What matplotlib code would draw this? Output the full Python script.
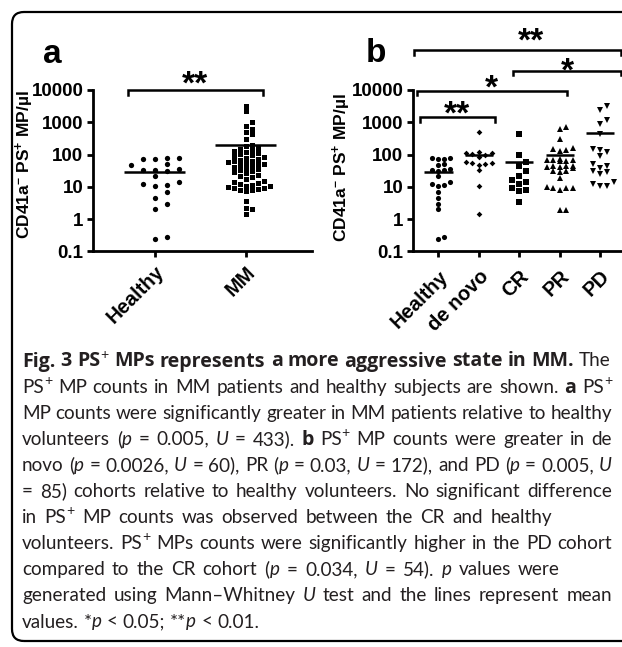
import re
import numpy as np
import matplotlib
matplotlib.use("Agg")
import matplotlib.pyplot as plt
from matplotlib.transforms import IdentityTransform
from matplotlib.font_manager import FontProperties
from matplotlib.patches import FancyBboxPatch
from matplotlib.ticker import NullLocator, FixedLocator

plt.rcParams["font.family"] = ["Liberation Sans", "DejaVu Sans"]
plt.rcParams["mathtext.fontset"] = "custom"
plt.rcParams["mathtext.rm"] = "Liberation Sans:bold"
plt.rcParams["mathtext.it"] = "Liberation Sans:bold:italic"
plt.rcParams["mathtext.bf"] = "Liberation Sans:bold"

W, H, DPI = 622, 647, 100

# ---------------- data ----------------
cats_a = ["Healthy", "MM"]
cats_b = ["Healthy", "de novo", "CR", "PR", "PD"]
yticks = [0.1, 1, 10, 100, 1000, 10000]
ytick_labels = ["0.1", "1", "10", "100", "1000", "10000"]

healthy = [81, 74, 81, 74, 50, 46, 33, 31, 36, 33, 21, 14, 12.6, 11.5, 10.5,
           6.8, 4.6, 3.0, 2.0, 0.25, 0.28]
mm = [3200, 2240, 1050, 780, 600, 500, 420, 300,
      200, 180, 160, 150, 140, 130, 120, 110, 105,
      95, 90, 85, 80, 75, 70, 65, 62, 58, 55, 52, 50, 48, 45, 42,
      38, 35, 33, 30, 28, 26, 24, 22, 20, 18,
      15, 14, 13, 12, 11.5, 11, 10.5, 10, 9.5, 9, 8.5, 8, 8, 7.5,
      3.7, 2.2, 2.1, 1.5]
de_novo = [490, 120, 115, 110, 105, 95, 85, 60, 55, 55, 50, 48, 33, 11, 1.5]
cr = [430, 98, 60, 45, 30, 22, 16, 14, 12, 9, 8, 7.5, 3.5]
pr = [700, 600, 300, 160, 150, 140, 130, 70, 68, 65, 68, 62, 72, 45, 42, 40,
      43, 38, 45, 32, 30, 28, 19, 8, 10, 9.5, 9, 9.5, 1.9, 1.9]
pd_ = [3200, 2400, 1200, 900, 450, 140, 120, 145, 90, 50, 45, 38, 32, 28, 25,
       14, 12, 11, 11]

groups_a = [healthy, mm]
groups_b = [healthy, de_novo, cr, pr, pd_]
markers_a = ["o", "s"]
markers_b = ["o", "D", "s", "^", "v"]
msizes_a = [3.8, 3.6]
msizes_b = [3.7, 2.9, 4.2, 4.3, 4.3]
# swarm layout per group: (column step px, row height px, max columns each side)
swarm_a = [(12.0, 6.0, 2), (6.0, 5.0, 5)]
swarm_b = [(6.0, 5.0, 2), (6.5, 5.0, 2), (7.0, 5.5, 2), (6.5, 5.0, 2), (7.0, 5.5, 2)]

# significance brackets: (x0, x1, y, label, star_x, star centre above bracket px)
sig_a = [(-0.30, 1.19, 10000, "**", 0.445, 13.5)]
sig_b = [(-0.61, 4.52, 1.7e5, "**", 2.29, 16.0),
         (1.84, 4.52, 3.9e4, "*", 3.18, 7.5),
         (-0.53, 3.17, 9.4e3, "*", 1.32, 10.0),
         (-0.46, 1.39, 1.45e3, "**", 0.47, 10.0)]

# ---------------- figure ----------------
fig = plt.figure(figsize=(W / DPI, H / DPI), dpi=DPI)


def px_rect(left, top, right, bottom):
    return [left / W, 1 - bottom / H, (right - left) / W, (bottom - top) / H]


axA = fig.add_axes(px_rect(93, 90, 312, 251.5))
axB = fig.add_axes(px_rect(413, 90, 626, 251.5))


def style_axis(ax, cats, xlim, xpad, label_xy):
    ax.set_yscale("log")
    ax.set_ylim(0.1, 10000)
    ax.set_xlim(*xlim)
    for s in ["top", "right"]:
        ax.spines[s].set_visible(False)
    for s in ["left", "bottom"]:
        ax.spines[s].set_linewidth(2.0)
    ax.yaxis.set_major_locator(FixedLocator(yticks))
    ax.yaxis.set_minor_locator(NullLocator())
    ax.set_yticklabels(ytick_labels, fontsize=13.5, fontweight="bold")
    ax.set_xticks(range(len(cats)))
    ax.set_xticklabels(cats, fontsize=14.5, fontweight="bold",
                       rotation=45, ha="right", va="top",
                       rotation_mode="anchor")
    ax.tick_params(axis="both", length=4, width=2, direction="out", pad=3)
    ax.tick_params(axis="x", pad=xpad)
    ax.set_ylabel("CD41a$^{-}$ PS$^{+}$ MP/µl", fontsize=12.5,
                  fontweight="bold")
    ax.yaxis.set_label_coords(*label_xy)


axA_w, axB_w = 219.0, 213.0
style_axis(axA, cats_a, (-0.68, 1.725), 4, ((36 - 93) / axA_w, (251.5 - 165) / 161.5))
style_axis(axB, cats_b, (-0.63, 4.64), 7, ((353 - 413) / axB_w, (251.5 - 168) / 161.5))


def swarm_x(ax, xc, values, step, row_h, maxcol):
    vals = np.asarray(values, dtype=float)
    pts = ax.transData.transform(np.column_stack([np.full(len(vals), xc), vals]))
    ys = pts[:, 1]
    x0 = pts[0, 0]
    order = np.argsort(ys)
    cols = [0]
    for j in range(1, maxcol + 1):
        cols += [j, -j]
    placed = {c: [] for c in cols}
    xs = np.empty(len(vals))
    for i in order:
        y = ys[i]
        best, best_d = None, -1.0
        for c in cols:
            d = min([abs(y - py) for py in placed[c]] + [1e9])
            if d >= row_h:
                best = c
                break
            if d > best_d:
                best, best_d = c, d
        placed[best].append(y)
        xs[i] = x0 + best * step
    inv = ax.transData.inverted()
    return inv.transform(np.column_stack([xs, ys]))[:, 0]


def draw_groups(ax, groups, markers, sizes, layouts, half):
    for i, (vals, m, ms, lay) in enumerate(zip(groups, markers, sizes, layouts)):
        xs = swarm_x(ax, i, vals, *lay)
        ax.plot(xs, vals, linestyle="none", marker=m, ms=ms, color="black",
                markeredgewidth=0, clip_on=False, zorder=3)
        mean = float(np.mean(vals))
        ax.plot([i - half, i + half], [mean, mean], color="black", lw=1.8,
                solid_capstyle="butt", zorder=4)


draw_groups(axA, groups_a, markers_a, msizes_a, swarm_a, 0.335)
draw_groups(axB, groups_b, markers_b, msizes_b, swarm_b, 0.35)

STAR_CENTRE_PX = 16.7  # glyph centre above baseline at 24 pt


def draw_sig(ax, sigs, drop=1.38):
    for x0, x1, y, lab, sx, above in sigs:
        ax.plot([x0, x0, x1, x1], [y / drop, y, y, y / drop], color="black",
                lw=1.8, clip_on=False, solid_joinstyle="miter")
        off_pt = (above - STAR_CENTRE_PX) * 72.0 / DPI
        ax.annotate(lab, xy=(sx, y), xytext=(0, off_pt), textcoords="offset points",
                    ha="center", va="baseline", fontsize=24, fontweight="bold",
                    annotation_clip=False)


draw_sig(axA, sig_a)
draw_sig(axB, sig_b)

# panel letters
fig.text(43, H - 63, "a", transform=IdentityTransform(), fontsize=24,
         fontweight="bold", ha="left", va="baseline")
fig.text(366, H - 62, "b", transform=IdentityTransform(), fontsize=24,
         fontweight="bold", ha="left", va="baseline")

# border box
box = FancyBboxPatch((12, 6), 640, 629, boxstyle="round,pad=0,rounding_size=12",
                     transform=IdentityTransform(), fill=False, lw=1.6,
                     edgecolor="black")
fig.add_artist(box)

# ---------------- caption ----------------
caption = [
    [("Fig. 3 PS", "b"), ("+", "sup"), (" MPs represents a more aggressive state in MM.", "b"), (" The", "r")],
    [("PS", "r"), ("+", "sup"), (" MP counts in MM patients and healthy subjects are shown. ", "r"), ("a", "b"), (" PS", "r"), ("+", "sup")],
    [("MP counts were significantly greater in MM patients relative to healthy", "r")],
    [("volunteers (", "r"), ("p", "i"), (" = 0.005, ", "r"), ("U", "i"), (" = 433). ", "r"), ("b", "b"),
     (" PS", "r"), ("+", "sup"), (" MP counts were greater in de", "r")],
    [("novo (", "r"), ("p", "i"), (" = 0.0026, ", "r"), ("U", "i"), (" = 60), PR (", "r"), ("p", "i"),
     (" = 0.03, ", "r"), ("U", "i"), (" = 172), and PD (", "r"), ("p", "i"), (" = 0.005, ", "r"), ("U", "i")],
    [("= 85) cohorts relative to healthy volunteers. No significant difference", "r")],
    [("in PS", "r"), ("+", "sup"), (" MP counts was observed between the CR and healthy", "r")],
    [("volunteers. PS", "r"), ("+", "sup"), (" MPs counts were significantly higher in the PD cohort", "r")],
    [("compared to the CR cohort (", "r"), ("p", "i"), (" = 0.034, ", "r"), ("U", "i"), (" = 54). ", "r"),
     ("p", "i"), (" values were", "r")],
    [("generated using Mann–Whitney ", "r"), ("U", "i"), (" test and the lines represent mean", "r")],
    [("values. *", "r"), ("p", "i"), (" < 0.05; **", "r"), ("p", "i"), (" < 0.01.", "r")],
]
# right end of each caption line in the picture (px)
line_ends = [612, 612, 612, 612, 612, 612, 562, 612, 560, 612, 259]

renderer = fig.canvas.get_renderer()
REG_FONT = "Lato"
BOLD_FONT = "Open Sans"
CAP_COLOR = "#231f20"
x_left = 22.0


def fprops(style, size, bsize):
    if style == "b":
        return FontProperties(family=BOLD_FONT, weight="bold", size=bsize)
    if style == "i":
        return FontProperties(family=REG_FONT, style="italic", size=size)
    if style == "sup":
        return FontProperties(family=REG_FONT, size=size * 0.75)
    return FontProperties(family=REG_FONT, size=size)


def twidth(s, fp):
    w, h, d = renderer.get_text_width_height_descent(s, fp, ismath=False)
    return w


def advance(s, fp):
    return twidth("x" + s + "x", fp) - twidth("xx", fp)


ref_line = "".join(s for s, _ in caption[2])
cap_size = 10.0 * (line_ends[2] - x_left) / advance(ref_line, fprops("r", 10.0, 10.0))
reg_part = advance(" The", fprops("r", cap_size, 10)) + advance("+", fprops("sup", cap_size, 10))
bold_w10 = sum(advance(s, fprops("b", cap_size, 10.0)) for s, st in caption[0] if st == "b")
bold_size = 10.0 * (line_ends[0] - x_left - reg_part) / bold_w10
bold_size = max(cap_size * 0.9, min(bold_size, cap_size * 1.12))


def tokens(s):
    return [t for t in re.split(r"( )", s) if t != ""]


base0 = 366.5
spacing = 26.1
for k, line in enumerate(caption):
    natural = sum(advance(s, fprops(st, cap_size, bold_size)) for s, st in line)
    nspace = sum(s.count(" ") for s, _ in line)
    extra = (line_ends[k] - x_left - natural) / nspace if nspace else 0.0
    extra = max(-1.0, min(extra, 2.5))
    x = x_left
    yb = H - (base0 + k * spacing)
    for s, st in line:
        fp = fprops(st, cap_size, bold_size)
        dy = cap_size * 0.42 * DPI / 72.0 if st == "sup" else 0.0
        for tok in tokens(s):
            if tok == " ":
                x += advance(" ", fp) + extra
                continue
            fig.text(x, yb + dy, tok, transform=IdentityTransform(), fontproperties=fp,
                     ha="left", va="baseline", color=CAP_COLOR)
            x += advance(tok, fp)

fig.savefig("out.png", dpi=DPI)
